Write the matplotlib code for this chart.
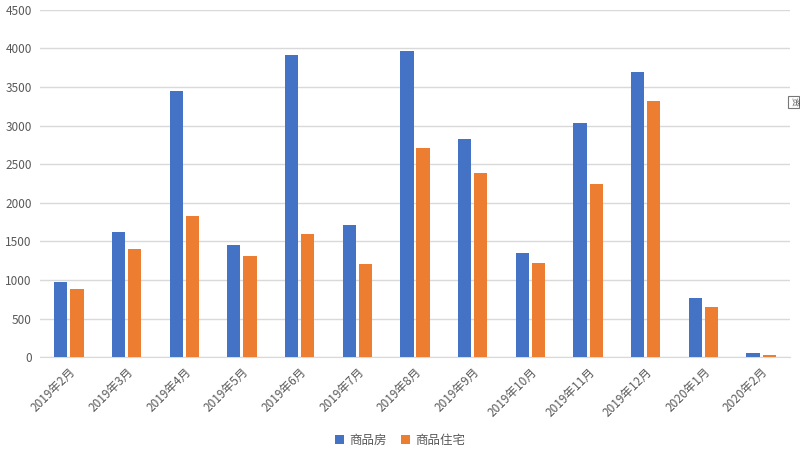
import matplotlib
matplotlib.use("Agg")
import matplotlib.pyplot as plt
import numpy as np

plt.rcParams['font.family'] = ['Noto Sans CJK SC', 'DejaVu Sans']

categories = ["2019年2月", "2019年3月", "2019年4月", "2019年5月", "2019年6月", "2019年7月",
              "2019年8月", "2019年9月", "2019年10月", "2019年11月", "2019年12月",
              "2020年1月", "2020年2月"]
commercial = [975, 1619, 3453, 1451, 3916, 1714, 3964, 2828, 1355, 3039, 3692, 764, 52]
residential = [885, 1403, 1830, 1312, 1593, 1205, 2707, 2387, 1225, 2245, 3324, 655, 30]
series_names = ["商品房", "商品住宅"]
yticks = [0, 500, 1000, 1500, 2000, 2500, 3000, 3500, 4000, 4500]

blue = "#4472C4"
orange = "#ED7D31"
grid_c = "#D9D9D9"
text_c = "#595959"

fig = plt.figure(figsize=(8, 4.53), dpi=100)
ax = fig.add_axes([0.05, 0.2113, 0.9375, 0.7673])

x = np.arange(len(categories))
w = 0.23
ax.bar(x - 0.14, commercial, width=w, color=blue, label=series_names[0], zorder=3)
ax.bar(x + 0.14, residential, width=w, color=orange, label=series_names[1], zorder=3)

ax.set_xlim(-0.5, len(categories) - 0.5)
ax.set_ylim(0, 4500)
ax.set_yticks(yticks)
ax.set_yticklabels([str(v) for v in yticks], fontsize=8.5, color=text_c)
ax.yaxis.grid(True, color=grid_c, linewidth=1, zorder=0)
ax.set_axisbelow(True)

ax.set_xticks(x)
ax.set_xticklabels(categories, rotation=45, ha='right', va='top',
                   rotation_mode='anchor', fontsize=8.5, color=text_c)
ax.tick_params(axis='both', length=0)
ax.tick_params(axis='y', pad=6)
ax.tick_params(axis='x', pad=6)

for s in ['top', 'right', 'left']:
    ax.spines[s].set_visible(False)
ax.spines['bottom'].set_color(grid_c)

leg = fig.legend(loc='center', bbox_to_anchor=(0.5, 0.028), ncol=2, frameon=False,
                 fontsize=9, handlelength=0.7, handleheight=0.7, handletextpad=0.4,
                 columnspacing=1.2)
for t in leg.get_texts():
    t.set_color(text_c)

fig.text(0.992, 0.775, "资", rotation=-90, fontsize=6.5, color="#555555",
         ha='center', va='center',
         bbox=dict(boxstyle='square,pad=0.15', fc='white', ec='#777777', lw=0.8))

fig.savefig("out.png", dpi=100)
